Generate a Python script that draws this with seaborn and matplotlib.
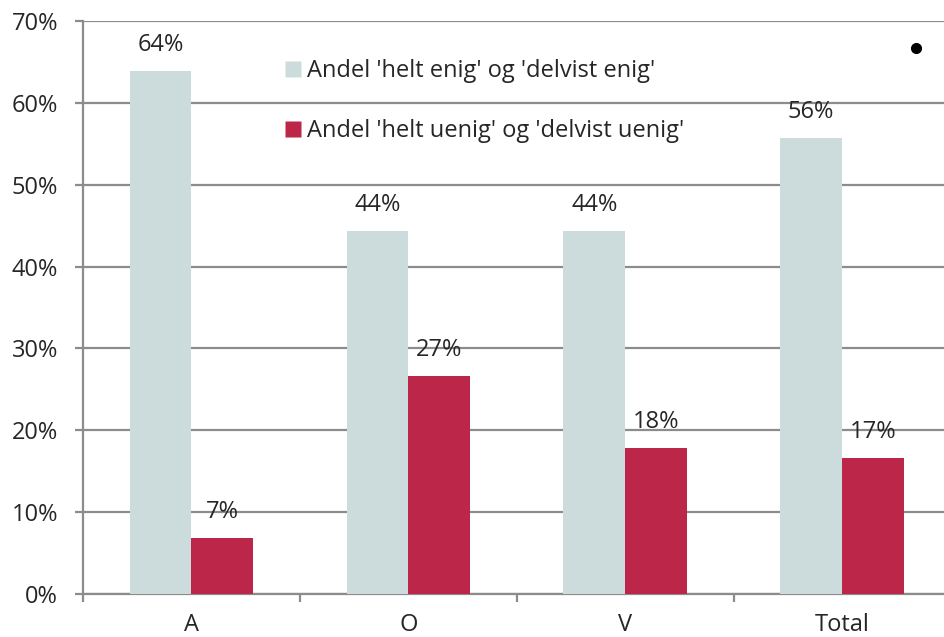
# recreating grouped bar chart: agreement shares per group
import pandas as pd
import matplotlib.pyplot as plt
import seaborn as sns
from matplotlib.lines import Line2D

# data
categories = ['A', 'O', 'V', 'Total']
agree = [63.9, 44.4, 44.3, 55.7]
disagree = [6.8, 26.6, 17.8, 16.6]
agree_labels = ['64%', '44%', '44%', '56%']
disagree_labels = ['7%', '27%', '18%', '17%']
series_names = ["Andel 'helt enig' og 'delvist enig'",
                "Andel 'helt uenig' og 'delvist uenig'"]
y_ticks = [0, 10, 20, 30, 40, 50, 60, 70]
stray_dot = (3.34, 66.7)

colors = ['#CCDCDC', '#BB2649']
grid_col = '#8C8C8C'
text_col = '#262626'
fs = 17

df = pd.DataFrame({
    'category': categories * 2,
    'value': agree + disagree,
    'series': [series_names[0]] * 4 + [series_names[1]] * 4,
    'label': agree_labels + disagree_labels,
})

sns.set_style('white')
plt.rcParams['font.family'] = ['Open Sans', 'DejaVu Sans']

fig = plt.figure(figsize=(9.44, 6.37), dpi=100)
ax = fig.add_axes([83 / 944, 43 / 637, 861 / 944, 573 / 637])

sns.barplot(data=df, x='category', y='value', hue='series', order=categories,
            hue_order=series_names, palette=colors, width=0.57, gap=0,
            saturation=1, edgecolor='none', legend=False, ax=ax, zorder=3)

# value labels above each bar
for cont, labs in zip(ax.containers, [agree_labels, disagree_labels]):
    ax.bar_label(cont, labels=labs, padding=10, fontsize=fs, color=text_col)

ax.set_ylim(0, 70)
ax.set_xlim(-0.5, 3.47)
ax.set_yticks(y_ticks)
ax.set_yticklabels([f'{t}%' for t in y_ticks])
ax.yaxis.grid(True, color=grid_col, linewidth=1.6, zorder=0)
ax.set_axisbelow(True)

# x ticks sit between categories
ax.set_xticks([0, 1, 2, 3])
ax.set_xticklabels(categories)
ax.set_xticks([-0.5, 0.5, 1.5, 2.5], minor=True)
ax.tick_params(axis='x', which='major', length=0, pad=14, labelsize=fs,
               labelcolor=text_col)
ax.tick_params(axis='x', which='minor', length=6, width=1.6, color=grid_col,
               direction='out', bottom=True)
ax.tick_params(axis='y', length=6, width=1.6, color=grid_col, pad=12,
               labelsize=fs, labelcolor=text_col, left=True)

for side in ['top', 'right']:
    ax.spines[side].set_visible(False)
for side in ['left', 'bottom']:
    ax.spines[side].set_color(grid_col)
    ax.spines[side].set_linewidth(1.6)

ax.set_xlabel('')
ax.set_ylabel('')

handles = [Line2D([0], [0], marker='s', linestyle='none', markersize=11,
                  markerfacecolor=c, markeredgecolor='none') for c in colors]
ax.legend(handles, series_names, loc='upper left', bbox_to_anchor=(0.205, 0.97),
          frameon=False, fontsize=fs, labelspacing=1.5, handletextpad=0.1,
          handlelength=1.0, labelcolor=text_col)

ax.plot(*stray_dot, marker='o', color='black', markersize=7, clip_on=False)

fig.savefig('out.png', dpi=100)
